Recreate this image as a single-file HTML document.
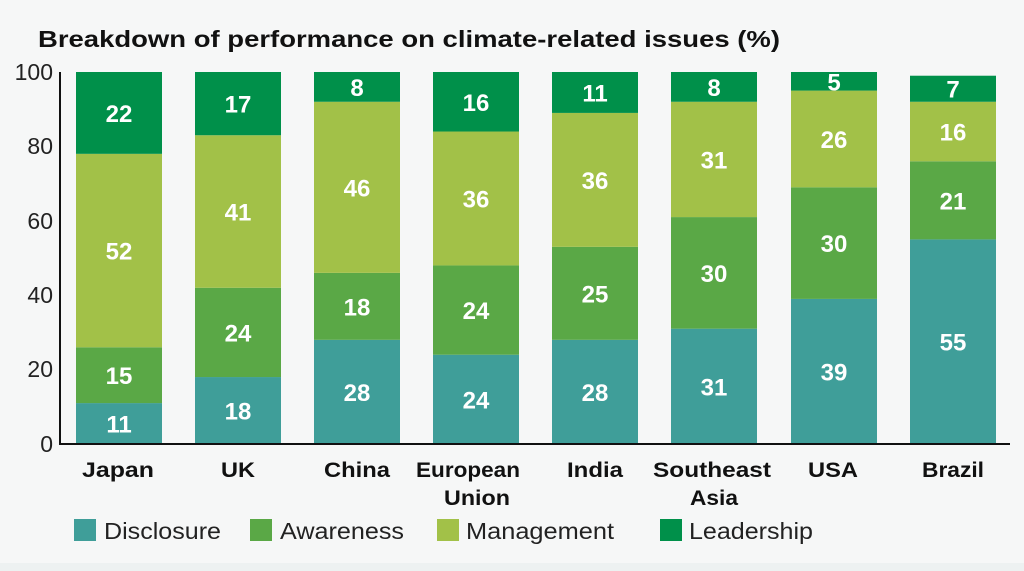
<!DOCTYPE html>
<html><head><meta charset="utf-8"><style>
html,body{margin:0;padding:0;background:#f6f7f7;}
body{width:1024px;height:571px;overflow:hidden;position:relative;font-family:"Liberation Sans",sans-serif;}
#strip{position:absolute;left:0;top:563px;width:1024px;height:8px;background:#edf1f1;}
</style></head><body>
<svg id="c" width="1024" height="571" xmlns="http://www.w3.org/2000/svg" style="position:absolute;left:0;top:0">
<text x="38" y="47" font-size="23" font-weight="bold" fill="#111" textLength="742" lengthAdjust="spacingAndGlyphs">Breakdown of performance on climate-related issues (%)</text>
<g id="bars"></g>
<line x1="60" y1="72" x2="60" y2="445" stroke="#111" stroke-width="2"/>
<line x1="59" y1="444" x2="1010" y2="444" stroke="#111" stroke-width="2"/>
<g font-size="23" fill="#222" text-anchor="end">
<text x="53" y="80">100</text><text x="53" y="154">80</text><text x="53" y="229">60</text>
<text x="53" y="303">40</text><text x="53" y="377">20</text><text x="53" y="452">0</text>
</g>
<g font-size="21" font-weight="bold" fill="#111">
<text x="82" y="477" textLength="72" lengthAdjust="spacingAndGlyphs">Japan</text>
<text x="221" y="477" textLength="34" lengthAdjust="spacingAndGlyphs">UK</text>
<text x="324" y="477" textLength="66" lengthAdjust="spacingAndGlyphs">China</text>
<text x="416" y="477" textLength="104" lengthAdjust="spacingAndGlyphs">European</text>
<text x="444" y="505" textLength="66" lengthAdjust="spacingAndGlyphs">Union</text>
<text x="567" y="477" textLength="56" lengthAdjust="spacingAndGlyphs">India</text>
<text x="653" y="477" textLength="118" lengthAdjust="spacingAndGlyphs">Southeast</text>
<text x="690" y="505" textLength="48" lengthAdjust="spacingAndGlyphs">Asia</text>
<text x="808" y="477" textLength="50" lengthAdjust="spacingAndGlyphs">USA</text>
<text x="922" y="477" textLength="62" lengthAdjust="spacingAndGlyphs">Brazil</text>
</g>
<g font-size="23" fill="#222">
<rect x="74" y="519" width="22" height="22" fill="#3f9e99"/><text x="104" y="539" textLength="117" lengthAdjust="spacingAndGlyphs">Disclosure</text>
<rect x="250" y="519" width="22" height="22" fill="#5aa846"/><text x="280" y="539" textLength="124" lengthAdjust="spacingAndGlyphs">Awareness</text>
<rect x="437" y="519" width="22" height="22" fill="#a2c148"/><text x="466" y="539" textLength="148" lengthAdjust="spacingAndGlyphs">Management</text>
<rect x="660" y="519" width="22" height="22" fill="#00904a"/><text x="689" y="539" textLength="124" lengthAdjust="spacingAndGlyphs">Leadership</text>
</g>
</svg>
<div id="strip"></div>
<script>
var d=[[11,15,52,22],[18,24,41,17],[28,18,46,8],[24,24,36,16],[28,25,36,11],[31,30,31,8],[39,30,26,5],[55,21,16,7]];
var xs=[76,195,314,433,552,671,791,910];
var cols=["#3f9e99","#5aa846","#a2c148","#00904a"];
var g=document.getElementById("bars"),s="";
d.forEach(function(r,i){var c=0;r.forEach(function(v,j){var y0=444-3.72*c,y1=444-3.72*(c+v);
s+='<rect x="'+xs[i]+'" y="'+y1+'" width="86" height="'+(y0-y1)+'" fill="'+cols[j]+'"/>';
s+='<text x="'+(xs[i]+43)+'" y="'+((y0+y1)/2+9)+'" font-size="24" font-weight="bold" fill="#fff" text-anchor="middle">'+v+'</text>';
c+=v;});});
g.innerHTML=s;
</script>
</body></html>
